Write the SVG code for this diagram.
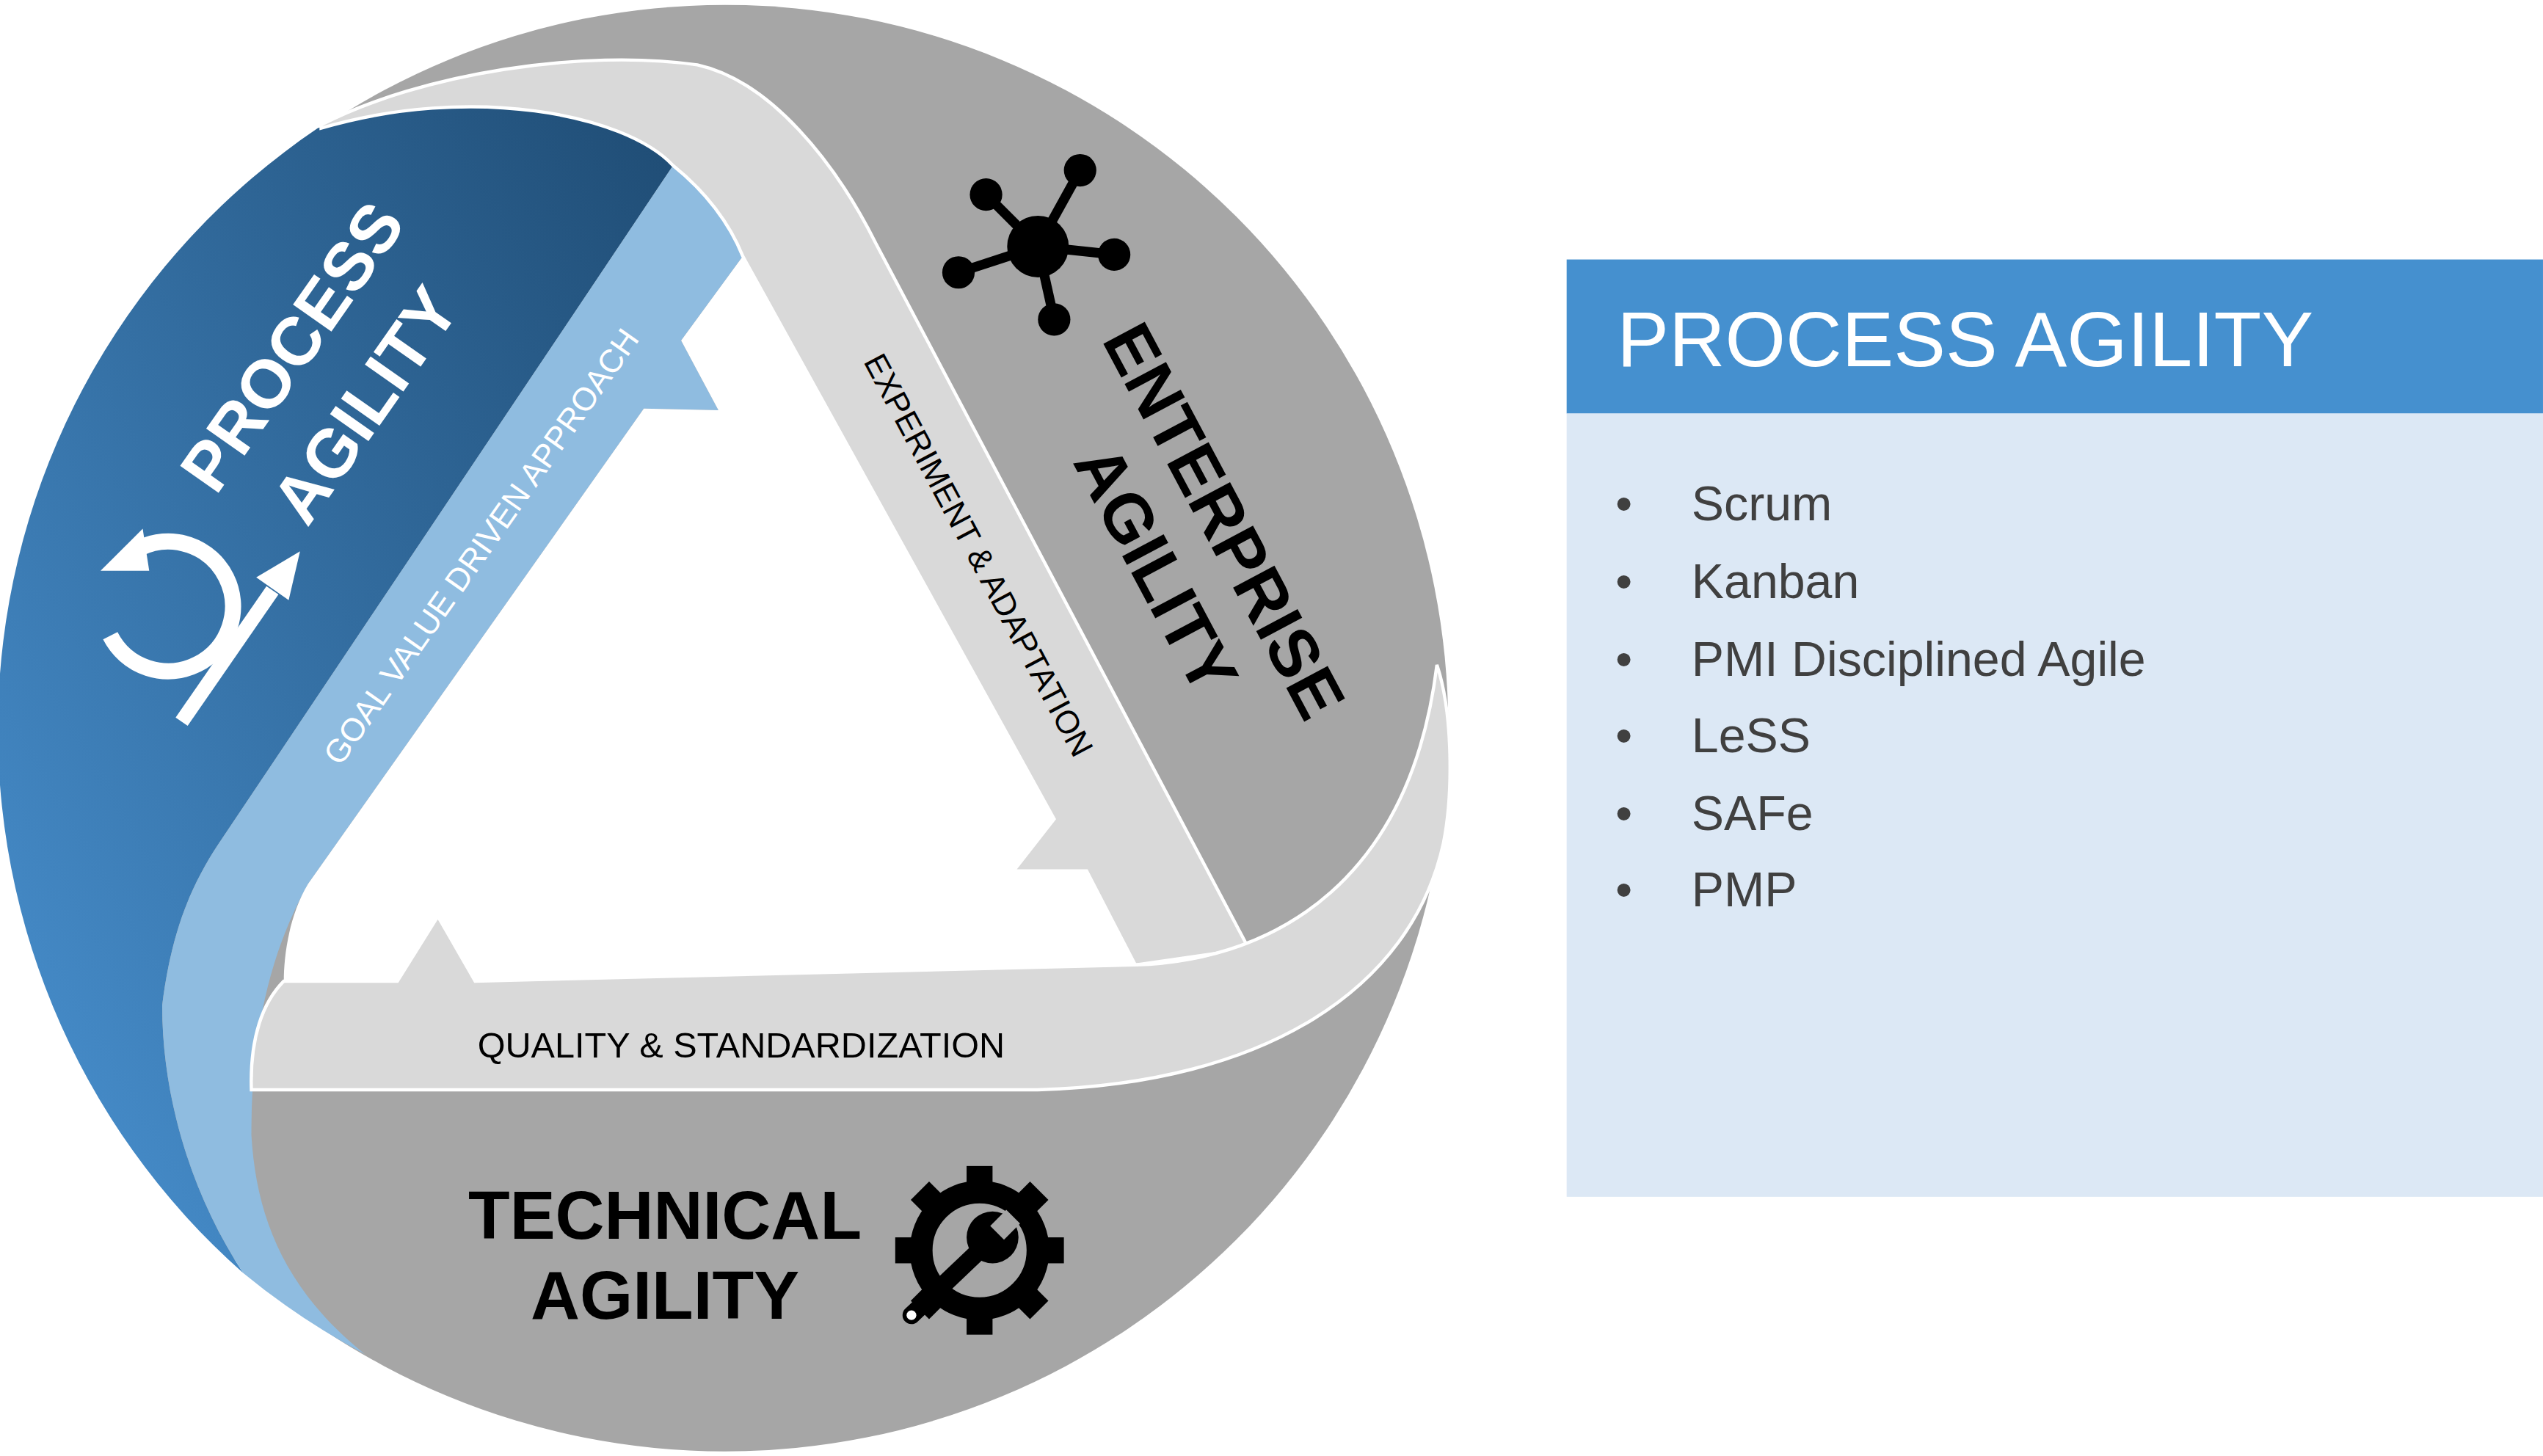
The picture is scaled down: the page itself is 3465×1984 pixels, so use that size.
<svg xmlns="http://www.w3.org/2000/svg" width="3465" height="1984" viewBox="0 0 3465 1984">
<defs>
<linearGradient id="bg" x1="0" y1="1" x2="1" y2="0"><stop offset="0" stop-color="#4a93d3"/><stop offset="1" stop-color="#1f4c74"/></linearGradient>
<style>
.b{font-family:"Liberation Sans",Arial,sans-serif;font-weight:bold}
.r{font-family:"Liberation Sans",Arial,sans-serif}
.li{fill:#404040;font-size:30px}
</style>
</defs>
<rect width="3465" height="1984" fill="#fff"/>
<g transform="scale(2.2098)">
<g id="wheel">
<circle cx="447" cy="449" r="446" fill="#a6a6a6"/>
<path d="M196,79 A447,447 0 0 0 150,785 C120,740 100,680 100,620 C105,580 115,550 135,520 L415,102 C385,70 290,52 196,79 Z" fill="url(#bg)"/>
<path d="M415,102 C435,118 450,138 458,158 L420,210 L443,253 L397,252 L190,545 C165,590 155,640 155,700 C158,750 175,795 225,835 A447,447 0 0 1 150,785 C120,740 100,680 100,620 C105,580 115,550 135,520 Z" fill="#8fbce0"/>
<path d="M458,158 L420,210 L443,253 L397,252 L190,545 C178,565 175,590 175,605 L245,605 L270,565 L293,605 L700,595 L670,537 L625,537 L650,505 Z" fill="#fff"/>
<path d="M198,77 C260,45 360,30 430,40 C475,50 515,100 540,150 L770,585 L700,595 L670,537 L625,537 L650,505 L458,158 C450,138 435,118 415,102 C385,70 290,52 198,79 Z" fill="#d9d9d9" stroke="#fff" stroke-width="2"/>
<path d="M175,605 L245,605 L270,565 L293,605 L700,595 C790,592 870,540 886,410 C896,440 896,490 890,520 C870,610 780,668 640,672 L155,672 C154,640 162,618 175,605 Z" fill="#d9d9d9" stroke="#fff" stroke-width="2"/>
</g>
<g id="process">
<text class="b" font-size="42" fill="#fff" transform="translate(192,222) rotate(-55)" text-anchor="middle">PROCESS</text>
<text class="b" font-size="42" fill="#fff" transform="translate(237,258) rotate(-55)" text-anchor="middle">AGILITY</text>
<path d="M68,392 A40,40 0 1 0 86,338" fill="none" stroke="#fff" stroke-width="10"/>
<path d="M62,352 L88,326 L92,352 Z" fill="#fff"/>
<path d="M112,445 L168,364" fill="none" stroke="#fff" stroke-width="9"/>
<path d="M185,340 L158,356 L178,370 Z" fill="#fff"/>
</g>
<text class="r" font-size="20" fill="#fff" transform="translate(298,338) rotate(-55)" text-anchor="middle" dominant-baseline="middle">GOAL VALUE DRIVEN APPROACH</text>
<g id="enterprise">
<text class="b" font-size="42" fill="#000" transform="translate(742,328) rotate(62)" text-anchor="middle">ENTERPRISE</text>
<text class="b" font-size="42" fill="#000" transform="translate(700,358) rotate(62)" text-anchor="middle">AGILITY</text>
<g stroke="#000" stroke-width="6"><line x1="640" y1="152" x2="666" y2="105"/><line x1="640" y1="152" x2="608" y2="120"/><line x1="640" y1="152" x2="687" y2="157"/><line x1="640" y1="152" x2="591" y2="168"/><line x1="640" y1="152" x2="650" y2="197"/></g>
<g fill="#000"><circle cx="640" cy="152" r="19"/><circle cx="666" cy="105" r="10"/><circle cx="608" cy="120" r="10"/><circle cx="687" cy="157" r="10"/><circle cx="591" cy="168" r="10"/><circle cx="650" cy="197" r="10"/></g>
</g>
<text class="r" font-size="20" fill="#000" transform="translate(602,343) rotate(62)" text-anchor="middle" dominant-baseline="middle">EXPERIMENT &amp; ADAPTATION</text>
<text class="r" font-size="22" fill="#000" x="457" y="652" text-anchor="middle">QUALITY &amp; STANDARDIZATION</text>
<g id="technical">
<text class="b" font-size="42" fill="#000" x="410" y="764" text-anchor="middle">TECHNICAL</text>
<text class="b" font-size="42" fill="#000" x="410" y="813" text-anchor="middle">AGILITY</text>
<g transform="translate(604,771)" fill="#000">
<circle r="36" fill="none" stroke="#000" stroke-width="14"/>
<g id="t"><rect x="-8" y="-52" width="16" height="16"/></g>
<use href="#t" transform="rotate(45)"/><use href="#t" transform="rotate(90)"/><use href="#t" transform="rotate(135)"/><use href="#t" transform="rotate(180)"/><use href="#t" transform="rotate(225)"/><use href="#t" transform="rotate(270)"/><use href="#t" transform="rotate(315)"/>
<circle cx="8" cy="-8" r="16"/>
<rect x="2" y="-26" width="12" height="14" fill="#a6a6a6" transform="rotate(45 8 -8)"/>
<line x1="0" y1="0" x2="-42" y2="40" stroke="#000" stroke-width="11" stroke-linecap="round"/>
<circle cx="-42" cy="40" r="3" fill="#fff"/>
</g>
</g>
<g id="panel">
<rect x="966" y="160" width="602" height="95" fill="#4590cf"/>
<rect x="966" y="255" width="602" height="483" fill="#dce8f5"/>
<text class="r" font-size="48" fill="#fff" x="997" y="226">PROCESS AGILITY</text>
<g class="r li">
<text x="996" y="321">•</text><text x="1043" y="321">Scrum</text>
<text x="996" y="369">•</text><text x="1043" y="369">Kanban</text>
<text x="996" y="417">•</text><text x="1043" y="417">PMI Disciplined Agile</text>
<text x="996" y="464">•</text><text x="1043" y="464">LeSS</text>
<text x="996" y="512">•</text><text x="1043" y="512">SAFe</text>
<text x="996" y="559">•</text><text x="1043" y="559">PMP</text>
</g>
</g>
</g>
</svg>
